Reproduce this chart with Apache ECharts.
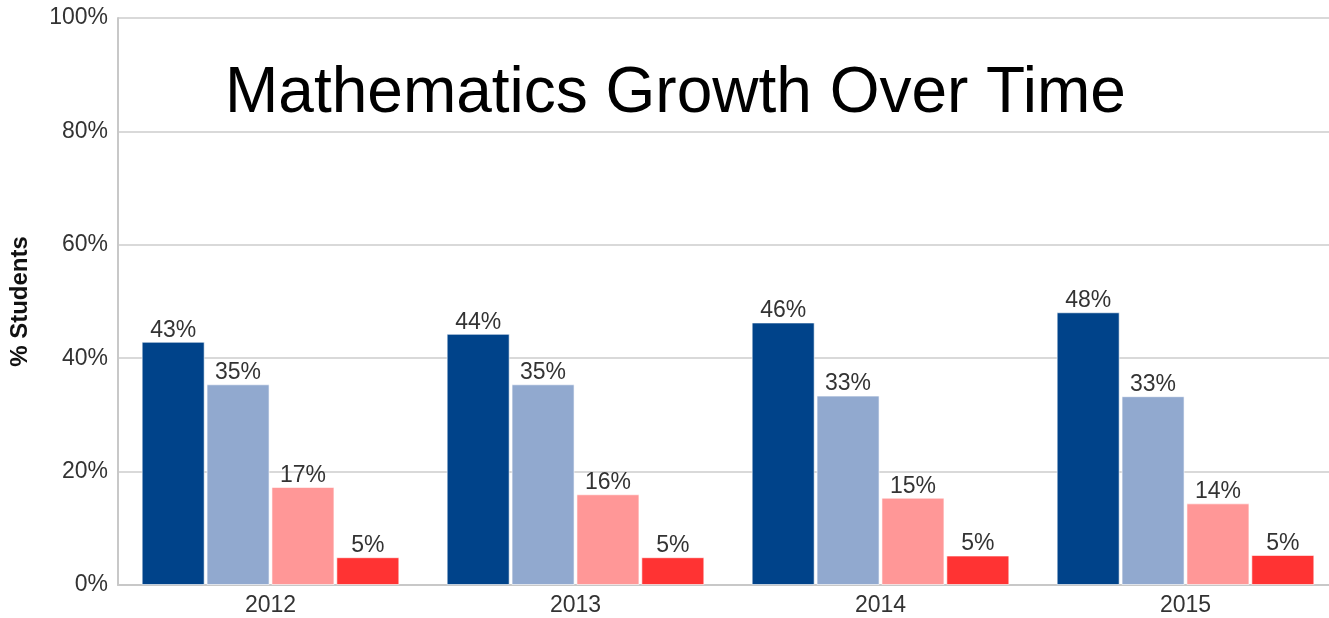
<!DOCTYPE html>
<html>
<head>
<meta charset="utf-8">
<script src="https://cdn.jsdelivr.net/npm/echarts@6/dist/echarts.min.js"></script>
<style>
html,body{margin:0;padding:0;background:#fff;overflow:hidden;}
#chart{width:1345px;height:618px;}
</style>
</head>
<body>
<div id="chart"></div>
<script>
const categories = ['2012', '2013', '2014', '2015'];
const seriesA = [42.9, 44.3, 46.3, 48.1];
const seriesB = [35.4, 35.4, 33.4, 33.3];
const seriesC = [17.3, 16.0, 15.4, 14.4];
const seriesD = [4.9, 4.9, 5.2, 5.3];
const seriesColors = ['#00438a', '#91a9cf', '#ff9797', '#ff3333'];
const yTicks = [0, 20, 40, 60, 80, 100];

const chart = echarts.init(document.getElementById('chart'), null, {renderer: 'canvas'});
const font = '"Liberation Sans", Arial, sans-serif';
function mk(name, data, color) {
  return {
    name: name,
    type: 'bar',
    data: data,
    barWidth: 63,
    barGap: '3%',
    itemStyle: {color: color, borderColor: 'rgba(255,255,255,0.6)', borderWidth: 1},
    label: {
      show: true, position: 'top', distance: 0,
      color: '#333', fontSize: 23, fontFamily: font,
      formatter: p => Math.round(p.value) + '%'
    }
  };
}
chart.setOption({
  animation: false,
  backgroundColor: '#fff',
  title: {
    text: 'Mathematics Growth Over Time',
    left: 220, top: 57,
    textStyle: {fontSize: 64, fontWeight: 'normal', color: '#000', fontFamily: font}
  },
  grid: {left: 118, right: 7, top: 18, bottom: 33, containLabel: false},
  xAxis: {
    type: 'category',
    data: categories,
    axisLine: {show: true, lineStyle: {color: '#c8c8c8', width: 2}},
    axisTick: {show: false},
    axisLabel: {color: '#333', fontSize: 23, fontFamily: font, margin: 9}
  },
  yAxis: {
    type: 'value',
    min: yTicks[0], max: yTicks[yTicks.length - 1], interval: 20,
    name: '% Students',
    nameLocation: 'middle',
    nameGap: 86,
    nameTextStyle: {fontSize: 24, fontWeight: 'bold', color: '#111', fontFamily: font},
    axisLine: {show: true, lineStyle: {color: '#c8c8c8', width: 2}},
    axisTick: {show: false},
    splitLine: {lineStyle: {color: '#cccccc', width: 1.5}},
    axisLabel: {color: '#333', fontSize: 23, fontFamily: font, margin: 10, formatter: v => v + '%'}
  },
  series: [
    mk('A', seriesA, seriesColors[0]),
    mk('B', seriesB, seriesColors[1]),
    mk('C', seriesC, seriesColors[2]),
    mk('D', seriesD, seriesColors[3])
  ]
});
</script>
</body>
</html>
